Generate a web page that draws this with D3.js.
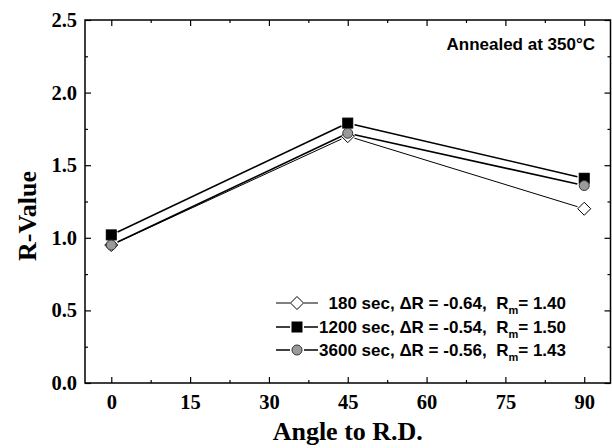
<!DOCTYPE html>
<html>
<head>
<meta charset="utf-8">
<script src="https://cdn.jsdelivr.net/npm/d3@7"></script>
<style>
  body { margin: 0; background: #fff; }
  svg { display: block; }
  .tick line { stroke: #000; }
</style>
</head>
<body>
<div class="chart"></div>
<script>
// data
const angles = [0, 45, 90];
const r180 = [0.95, 1.70, 1.20];
const r1200 = [1.02, 1.79, 1.41];
const r3600 = [0.95, 1.72, 1.36];
const seriesNames = ["180 sec", "1200 sec", "3600 sec"];
const deltaR = ["-0.64", "-0.54", "-0.56"];
const rMean = ["1.40", "1.50", "1.43"];

const xTicks = [0, 15, 30, 45, 60, 75, 90];
const xMinor = [7.5, 22.5, 37.5, 52.5, 67.5, 82.5];
const yTicks = [0, 0.5, 1.0, 1.5, 2.0, 2.5];
const yMinor = [0.25, 0.75, 1.25, 1.75, 2.25];

const W = 612, H = 448;
const margin = { top: 20, right: 1.5, bottom: 65, left: 85 };
const width = W - margin.left - margin.right;
const height = H - margin.top - margin.bottom;

const svg = d3.select(".chart").append("svg")
  .attr("width", W)
  .attr("height", H);

const g = svg.append("g")
  .attr("transform", `translate(${margin.left}, ${margin.top})`);

const x = d3.scaleLinear().domain([-5, 95]).range([0, width]);
const y = d3.scaleLinear().domain([0, 2.5]).range([height, 0]);

const serif = "'Liberation Serif', 'Times New Roman', serif";
const sans = "'Liberation Sans', Arial, sans-serif";

// axes, ticks pointing inward on all four sides
function styleAxis(sel) {
  sel.select(".domain").remove();
  sel.selectAll(".tick line").attr("stroke-width", 1.2);
}

g.append("g")
  .attr("transform", `translate(0, ${height})`)
  .call(d3.axisBottom(x).tickValues(xTicks).tickSizeInner(-6).tickSizeOuter(0).tickPadding(11).tickFormat(d3.format("d")))
  .call(styleAxis)
  .selectAll("text")
  .style("font-family", serif).style("font-weight", "bold").style("font-size", "20.5px").attr("fill", "#000");

g.append("g")
  .attr("transform", `translate(0, ${height})`)
  .call(d3.axisBottom(x).tickValues(xMinor).tickSizeInner(-3).tickSizeOuter(0).tickFormat(""))
  .call(styleAxis);

g.append("g")
  .call(d3.axisLeft(y).tickValues(yTicks).tickSizeInner(-6).tickSizeOuter(0).tickPadding(8).tickFormat(d3.format(".1f")))
  .call(styleAxis)
  .selectAll("text")
  .style("font-family", serif).style("font-weight", "bold").style("font-size", "20.5px").attr("fill", "#000");

g.append("g")
  .call(d3.axisLeft(y).tickValues(yMinor).tickSizeInner(-3).tickSizeOuter(0).tickFormat(""))
  .call(styleAxis);

// top & right mirror ticks
g.append("g")
  .call(d3.axisTop(x).tickValues(xTicks).tickSizeInner(-6).tickSizeOuter(0).tickFormat(""))
  .call(styleAxis);
g.append("g")
  .call(d3.axisTop(x).tickValues(xMinor).tickSizeInner(-3).tickSizeOuter(0).tickFormat(""))
  .call(styleAxis);
g.append("g")
  .attr("transform", `translate(${width}, 0)`)
  .call(d3.axisRight(y).tickValues(yTicks).tickSizeInner(-6).tickSizeOuter(0).tickFormat(""))
  .call(styleAxis);
g.append("g")
  .attr("transform", `translate(${width}, 0)`)
  .call(d3.axisRight(y).tickValues(yMinor).tickSizeInner(-3).tickSizeOuter(0).tickFormat(""))
  .call(styleAxis);

// frame
g.append("rect")
  .attr("width", width)
  .attr("height", height)
  .attr("fill", "none")
  .attr("stroke", "#000")
  .attr("stroke-width", 1.5);

// series
const series = [
  { name: seriesNames[0], values: r180, shape: "diamond", fill: "#fff", lw: 1 },
  { name: seriesNames[1], values: r1200, shape: "square", fill: "#000", lw: 1.6 },
  { name: seriesNames[2], values: r3600, shape: "circle", fill: "#9a9a9a", lw: 1.6 }
];

function marker(sel, s) {
  if (s.shape === "square") {
    sel.append("rect").attr("x", -5).attr("y", -5).attr("width", 10).attr("height", 10)
      .attr("fill", s.fill).attr("stroke", "#000").attr("stroke-width", 1);
  } else if (s.shape === "circle") {
    sel.append("circle").attr("r", 5)
      .attr("fill", s.fill).attr("stroke", "#333").attr("stroke-width", 1);
  } else {
    sel.append("path").attr("d", "M0,-6.5L6.5,0L0,6.5L-6.5,0Z")
      .attr("fill", s.fill).attr("stroke", "#000").attr("stroke-width", 1);
  }
}

const gap = 7;
series.forEach(function (s) {
  const pts = angles.map(function (a, i) { return [x(a), y(s.values[i])]; });
  // line segments stop short of the markers
  for (let i = 0; i < pts.length - 1; i++) {
    const p0 = pts[i], p1 = pts[i + 1];
    const dx = p1[0] - p0[0], dy = p1[1] - p0[1];
    const len = Math.sqrt(dx * dx + dy * dy);
    g.append("line")
      .attr("x1", p0[0] + dx / len * gap).attr("y1", p0[1] + dy / len * gap)
      .attr("x2", p1[0] - dx / len * gap).attr("y2", p1[1] - dy / len * gap)
      .attr("stroke", "#000").attr("stroke-width", s.lw);
  }
});

series.forEach(function (s) {
  angles.forEach(function (a, i) {
    const m = g.append("g").attr("transform", `translate(${x(a)}, ${y(s.values[i])})`);
    marker(m, s);
  });
});

// annotation
svg.append("text")
  .attr("x", 595).attr("y", 50)
  .attr("text-anchor", "end")
  .style("font-family", sans).style("font-weight", "bold").style("font-size", "17px")
  .text("Annealed at 350°C");

// legend
const legendRows = [303, 327, 350];
series.forEach(function (s, i) {
  const ly = legendRows[i];
  const lg = svg.append("g");
  lg.append("line").attr("x1", 276).attr("x2", 318).attr("y1", ly).attr("y2", ly)
    .attr("stroke", "#000").attr("stroke-width", s.lw);
  const m = lg.append("g").attr("transform", `translate(297, ${ly})`);
  m.append("rect").attr("x", -7).attr("y", -7).attr("width", 14).attr("height", 14).attr("fill", "#fff");
  marker(m, s);
  const t = lg.append("text")
    .attr("x", 566).attr("y", ly + 6)
    .attr("text-anchor", "end")
    .style("font-family", sans).style("font-weight", "bold").style("font-size", "17px")
    .style("white-space", "pre");
  t.append("tspan").text(s.name + ", \u0394R = " + deltaR[i] + ",  R");
  t.append("tspan").text("m").attr("dy", 5).style("font-size", "11px");
  t.append("tspan").text("= " + rMean[i]).attr("dy", -5);
});

// axis titles
svg.append("text")
  .attr("x", margin.left + x(45)).attr("y", 440)
  .attr("text-anchor", "middle")
  .style("font-family", serif).style("font-weight", "bold").style("font-size", "26px")
  .text("Angle to R.D.");

svg.append("text")
  .attr("transform", `translate(36, ${margin.top + y(1.15)}) rotate(-90)`)
  .attr("text-anchor", "middle")
  .style("font-family", serif).style("font-weight", "bold").style("font-size", "26px")
  .text("R-Value");
</script>
</body>
</html>
